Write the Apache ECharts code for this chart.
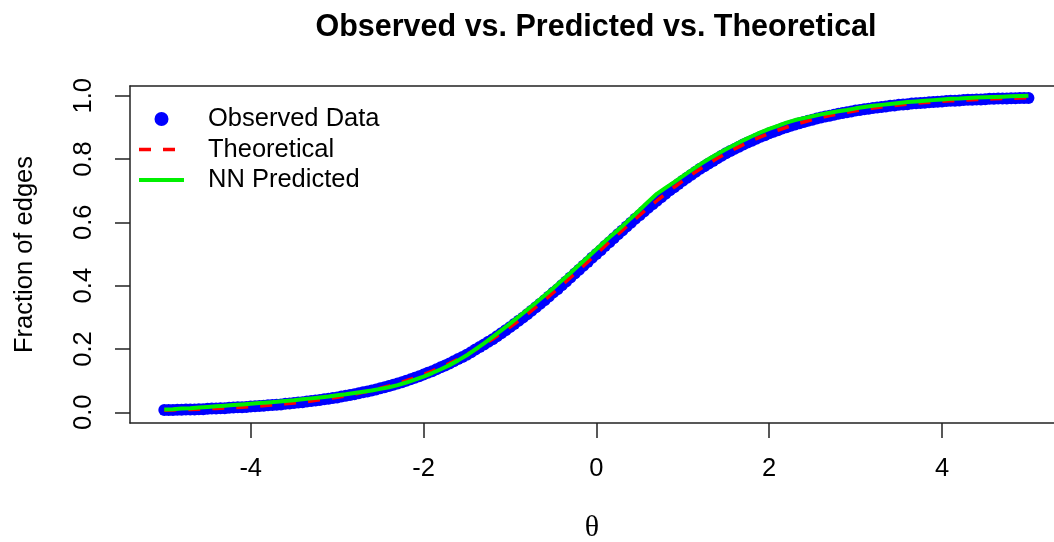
<!DOCTYPE html>
<html>
<head>
<meta charset="utf-8">
<script src="https://cdn.jsdelivr.net/npm/echarts@6/dist/echarts.min.js"></script>
<style>html,body{margin:0;padding:0;background:#fff}#chart{width:1054px;height:542px}</style>
</head>
<body>
<div id="chart"></div>
<script>
// ---- data ----
const thetaObs = [
-5.00,-4.95,-4.90,-4.85,-4.80,-4.75,-4.70,-4.65,-4.60,-4.55,-4.50,-4.45,-4.40,-4.35,-4.30,-4.25,-4.20,-4.15,-4.10,-4.05,
-4.00,-3.95,-3.90,-3.85,-3.80,-3.75,-3.70,-3.65,-3.60,-3.55,-3.50,-3.45,-3.40,-3.35,-3.30,-3.25,-3.20,-3.15,-3.10,-3.05,
-3.00,-2.95,-2.90,-2.85,-2.80,-2.75,-2.70,-2.65,-2.60,-2.55,-2.50,-2.45,-2.40,-2.35,-2.30,-2.25,-2.20,-2.15,-2.10,-2.05,
-2.00,-1.95,-1.90,-1.85,-1.80,-1.75,-1.70,-1.65,-1.60,-1.55,-1.50,-1.45,-1.40,-1.35,-1.30,-1.25,-1.20,-1.15,-1.10,-1.05,
-1.00,-0.95,-0.90,-0.85,-0.80,-0.75,-0.70,-0.65,-0.60,-0.55,-0.50,-0.45,-0.40,-0.35,-0.30,-0.25,-0.20,-0.15,-0.10,-0.05,
0.00,0.05,0.10,0.15,0.20,0.25,0.30,0.35,0.40,0.45,0.50,0.55,0.60,0.65,0.70,0.75,0.80,0.85,0.90,0.95,
1.00,1.05,1.10,1.15,1.20,1.25,1.30,1.35,1.40,1.45,1.50,1.55,1.60,1.65,1.70,1.75,1.80,1.85,1.90,1.95,
2.00,2.05,2.10,2.15,2.20,2.25,2.30,2.35,2.40,2.45,2.50,2.55,2.60,2.65,2.70,2.75,2.80,2.85,2.90,2.95,
3.00,3.05,3.10,3.15,3.20,3.25,3.30,3.35,3.40,3.45,3.50,3.55,3.60,3.65,3.70,3.75,3.80,3.85,3.90,3.95,
4.00,4.05,4.10,4.15,4.20,4.25,4.30,4.35,4.40,4.45,4.50,4.55,4.60,4.65,4.70,4.75,4.80,4.85,4.90,4.95,
5.00];
const observed = [
.007,.007,.007,.008,.008,.009,.009,.009,.010,.010,.011,.012,.012,.013,.013,.014,.015,.016,.016,.017,
.018,.019,.020,.021,.022,.023,.024,.025,.027,.028,.029,.031,.032,.034,.036,.037,.039,.041,.043,.045,
.047,.050,.052,.055,.057,.060,.063,.066,.069,.072,.076,.079,.083,.087,.091,.095,.100,.104,.109,.114,
.119,.125,.130,.136,.142,.148,.154,.161,.168,.175,.182,.190,.198,.206,.214,.223,.231,.240,.250,.259,
.269,.279,.289,.299,.310,.321,.332,.343,.354,.366,.378,.389,.401,.413,.426,.438,.450,.463,.475,.488,
.500,.512,.525,.537,.550,.562,.574,.587,.599,.611,.622,.634,.646,.657,.668,.679,.690,.701,.711,.721,
.731,.741,.750,.760,.769,.777,.786,.794,.802,.810,.818,.825,.832,.839,.846,.852,.858,.864,.870,.875,
.881,.886,.891,.896,.900,.905,.909,.913,.917,.921,.924,.928,.931,.934,.937,.940,.943,.945,.948,.950,
.953,.955,.957,.959,.961,.963,.964,.966,.968,.969,.971,.972,.973,.975,.976,.977,.978,.979,.980,.981,
.982,.983,.984,.984,.985,.986,.987,.987,.988,.988,.989,.990,.990,.991,.991,.991,.992,.992,.993,.993,
.993];
const thetaFit = [
-5.0,-4.9,-4.8,-4.7,-4.6,-4.5,-4.4,-4.3,-4.2,-4.1,-4.0,-3.9,-3.8,-3.7,-3.6,-3.5,-3.4,-3.3,-3.2,-3.1,
-3.0,-2.9,-2.8,-2.7,-2.6,-2.5,-2.4,-2.3,-2.2,-2.1,-2.0,-1.9,-1.8,-1.7,-1.6,-1.5,-1.4,-1.3,-1.2,-1.1,
-1.0,-0.9,-0.8,-0.7,-0.6,-0.5,-0.4,-0.3,-0.2,-0.1,0.0,0.1,0.2,0.3,0.4,0.5,0.6,0.7,0.8,0.9,
1.0,1.1,1.2,1.3,1.4,1.5,1.6,1.7,1.8,1.9,2.0,2.1,2.2,2.3,2.4,2.5,2.6,2.7,2.8,2.9,
3.0,3.1,3.2,3.3,3.4,3.5,3.6,3.7,3.8,3.9,4.0,4.1,4.2,4.3,4.4,4.5,4.6,4.7,4.8,4.9,
5.0];
const theoretical = [
.0067,.0074,.0082,.0090,.0100,.0110,.0121,.0134,.0148,.0163,.0180,.0198,.0219,.0241,.0266,.0293,.0323,.0356,.0392,.0431,
.0474,.0522,.0573,.0630,.0691,.0759,.0832,.0911,.0998,.1091,.1192,.1301,.1419,.1545,.1680,.1824,.1978,.2142,.2315,.2497,
.2689,.2891,.3100,.3318,.3543,.3775,.4013,.4256,.4502,.4750,.5000,.5250,.5498,.5744,.5987,.6225,.6457,.6682,.6900,.7109,
.7311,.7503,.7685,.7858,.8022,.8176,.8320,.8455,.8581,.8699,.8808,.8909,.9002,.9089,.9168,.9241,.9309,.9370,.9427,.9478,
.9526,.9569,.9608,.9644,.9677,.9707,.9734,.9759,.9781,.9802,.9820,.9837,.9852,.9866,.9879,.9890,.9900,.9910,.9918,.9926,
.9933];
const nnPredicted = [
.009,.010,.012,.013,.015,.017,.019,.021,.023,.025,.027,.029,.031,.033,.036,.038,.041,.044,.047,.050,
.054,.057,.061,.065,.069,.074,.079,.086,.094,.103,.113,.124,.136,.149,.164,.180,.199,.218,.238,.259,
.280,.302,.324,.346,.369,.392,.416,.440,.465,.490,.515,.540,.564,.588,.613,.639,.665,.690,.709,.727,
.746,.765,.783,.800,.816,.831,.845,.859,.872,.884,.895,.905,.915,.923,.929,.935,.941,.946,.951,.955,
.960,.964,.968,.971,.974,.977,.980,.982,.984,.986,.988,.990,.991,.993,.994,.995,.996,.997,.998,.999,
1.000];
const xTicks = [-4, -2, 0, 2, 4];
const yTicks = [0, 0.2, 0.4, 0.6, 0.8, 1.0];
const seriesNames = ['Observed Data', 'Theoretical', 'NN Predicted'];
const titleText = 'Observed vs. Predicted vs. Theoretical';
const xName = 'θ';
const yName = 'Fraction of edges';

// ---- chart ----
const zip = (xs, ys) => xs.map((x, i) => [x, ys[i]]);
const FONT = "'Liberation Sans', Arial, Helvetica, sans-serif";
const FS = 25.5;
const AXC = '#222';
const RED = '#ff0000', GREEN = '#00f000', BLUE = '#0000ff';
const X_MIN = -5.397, X_MAX = 5.296, Y_MIN = -0.0338, Y_MAX = 1.0306;
const chart = echarts.init(document.getElementById('chart'), null, {renderer: 'canvas'});
chart.setOption({
  animation: false,
  backgroundColor: '#ffffff',
  textStyle: {fontFamily: FONT, color: '#000'},
  title: {
    text: titleText, left: 591, top: 7, textAlign: 'center',
    textStyle: {fontFamily: FONT, fontWeight: 'bold', fontSize: 30.5, color: '#000'}
  },
  legend: {
    orient: 'vertical', left: 137, top: 106, padding: 0, itemWidth: 45, itemHeight: 14, itemGap: 4.5,
    textStyle: {fontFamily: FONT, fontSize: FS, color: '#000', padding: [0, 0, 0, 19]},
    data: [
      {name: seriesNames[0], icon: 'circle'},
      {name: seriesNames[1], itemStyle: {opacity: 0}, lineStyle: {color: RED, width: 3.5, type: [12, 12]}},
      {name: seriesNames[2], itemStyle: {opacity: 0}, lineStyle: {color: GREEN, width: 4}}
    ]
  },
  grid: {left: 130, top: 86, right: 0, height: 337, show: false, outerBoundsMode: 'none', containLabel: false},
  xAxis: [{
    type: 'value', min: X_MIN, max: X_MAX, position: 'bottom',
    name: xName, nameLocation: 'middle', nameGap: 90,
    nameTextStyle: {fontFamily: "'Liberation Serif', 'DejaVu Serif', serif", fontSize: 30, color: '#000'},
    axisLine: {show: true, onZero: false, lineStyle: {color: AXC, width: 1.5}},
    axisTick: {show: true, customValues: xTicks, length: 15, lineStyle: {color: AXC, width: 1.5}},
    axisLabel: {customValues: xTicks, fontSize: FS, margin: 33, color: '#000', fontFamily: FONT},
    splitLine: {show: false}
  }, {
    type: 'value', min: X_MIN, max: X_MAX, position: 'top',
    axisLine: {show: true, onZero: false, lineStyle: {color: AXC, width: 1.5}},
    axisTick: {show: false}, axisLabel: {show: false}, splitLine: {show: false}
  }],
  yAxis: {
    type: 'value', min: Y_MIN, max: Y_MAX, position: 'left',
    name: yName, nameLocation: 'middle', nameGap: 92, nameRotate: 90,
    nameTextStyle: {fontFamily: FONT, fontSize: FS, color: '#000'},
    axisLine: {show: true, onZero: false, lineStyle: {color: AXC, width: 1.5}},
    axisTick: {show: true, customValues: yTicks, length: 15, lineStyle: {color: AXC, width: 1.5}},
    axisLabel: {customValues: yTicks, rotate: 90, fontSize: FS, margin: 33, color: '#000', fontFamily: FONT,
      formatter: v => v.toFixed(1)},
    splitLine: {show: false}
  },
  series: [
    {
      name: seriesNames[0], type: 'scatter', data: zip(thetaObs, observed),
      symbol: 'circle', symbolSize: 12, itemStyle: {color: BLUE, opacity: 1}, z: 2, silent: true
    },
    {
      name: seriesNames[1], type: 'line', data: zip(thetaFit, theoretical), showSymbol: false, symbol: 'none',
      lineStyle: {color: RED, width: 3.5, type: [12, 12]}, itemStyle: {color: RED}, z: 3, silent: true
    },
    {
      name: seriesNames[2], type: 'line', data: zip(thetaFit, nnPredicted), showSymbol: false, symbol: 'none',
      lineStyle: {color: GREEN, width: 4}, itemStyle: {color: GREEN}, z: 4, silent: true
    }
  ]
});
</script>
</body>
</html>
